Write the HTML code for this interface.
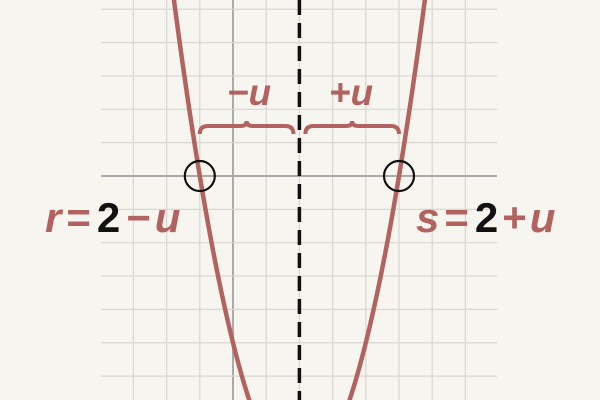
<!DOCTYPE html>
<html><head><meta charset="utf-8"><style>
html,body{margin:0;padding:0;background:#f6f5f0;width:600px;height:400px;overflow:hidden;position:relative;}
svg{display:block;}
text{font-family:"Liberation Sans","DejaVu Sans",sans-serif;font-weight:bold;}
</style></head><body>
<svg id="chart" width="600" height="400" viewBox="0 0 600 400" xmlns="http://www.w3.org/2000/svg" style="position:absolute;left:0;top:0;overflow:hidden">
<rect width="600" height="400" fill="#f6f5f0"/>
<g id="grid"></g>
<g id="marks"></g>
<g>
<text x="249" y="105" font-size="37" font-style="italic" fill="#b3635f" text-anchor="middle">−u</text>
<text x="351" y="105" font-size="37" font-style="italic" fill="#b3635f" text-anchor="middle">+u</text>
<text x="45" y="232" font-size="42" fill="#b3635f"><tspan font-style="italic">r</tspan><tspan dx="5">=</tspan><tspan dx="6" fill="#111">2</tspan><tspan dx="6">−</tspan><tspan dx="4" font-style="italic">u</tspan></text>
<text x="416" y="232" font-size="42" fill="#b3635f"><tspan font-style="italic">s</tspan><tspan dx="5">=</tspan><tspan dx="6" fill="#111">2</tspan><tspan dx="4">+</tspan><tspan dx="3" font-style="italic">u</tspan></text>
</g>
</svg>
<script>
const xTicks = [-3,-2,-1,0,1,2,3,4,5,6,7];
const yTicks = [5,4,3,2,1,0,-1,-2,-3,-4,-5,-6];
const roots = [-1,5];
const coefA = [1];
const axisOf = [2];
const ns = "http://www.w3.org/2000/svg";
const X0 = 233, UX = 33.2, Y0 = 176, UY = 33.35;
function sx(v){return X0 + v*UX;}
function sy(v){return Y0 - v*UY;}
function mk(tag, attrs, parent){const e=document.createElementNS(ns,tag);for(const k in attrs)e.setAttribute(k,attrs[k]);parent.appendChild(e);return e;}
const grid=document.getElementById('grid'), marks=document.getElementById('marks');
xTicks.forEach(v=>{
  const l=mk('line',{x1:sx(v),x2:sx(v),y1:0,y2:400,stroke:v===0?'#aaa':'#d8d6d0','stroke-width':v===0?2:1.2},grid);
  
  
});
yTicks.forEach(v=>{
  const l=mk('line',{x1:101,x2:497,y1:sy(v),y2:sy(v),stroke:v===0?'#aaa':'#d8d6d0','stroke-width':v===0?2:1.2},grid);
  
  
});
const h=axisOf[0];
const dash=mk('line',{x1:sx(h),x2:sx(h),y1:0,y2:400,stroke:'#111','stroke-width':3.5,'stroke-dasharray':'15 8'},marks);


const col='#b3635f';
let d='';
for(let px=150;px<=450;px+=0.5){const x=(px-X0)/UX;const y=coefA[0]*(x-roots[0])*(x-roots[1]);const py=sy(y);
  if(py<-4||py>404){continue;}
  d+=(d?'L':'M')+px+','+py.toFixed(2);}
const curve=mk('path',{d:d,fill:'none',stroke:col,'stroke-width':4.5},marks);


function brace(x1,x2,y){const m=(x1+x2)/2;return `M${x1},${y+8} Q${x1},${y} ${x1+8},${y} L${m-6},${y} Q${m},${y} ${m},${y-5} Q${m},${y} ${m+6},${y} L${x2-8},${y} Q${x2},${y} ${x2},${y+8}`;}
const b1=mk('path',{d:brace(sx(roots[0]),sx(h)-6,126),fill:'none',stroke:col,'stroke-width':4},marks);


const b2=mk('path',{d:brace(sx(h)+6,sx(roots[1]),126),fill:'none',stroke:col,'stroke-width':4},marks);


roots.forEach((r,i)=>{const c=mk('circle',{cx:sx(r),cy:sy(0),r:15,fill:'none',stroke:'#111','stroke-width':2.2},marks);

});
</script>
</body></html>
